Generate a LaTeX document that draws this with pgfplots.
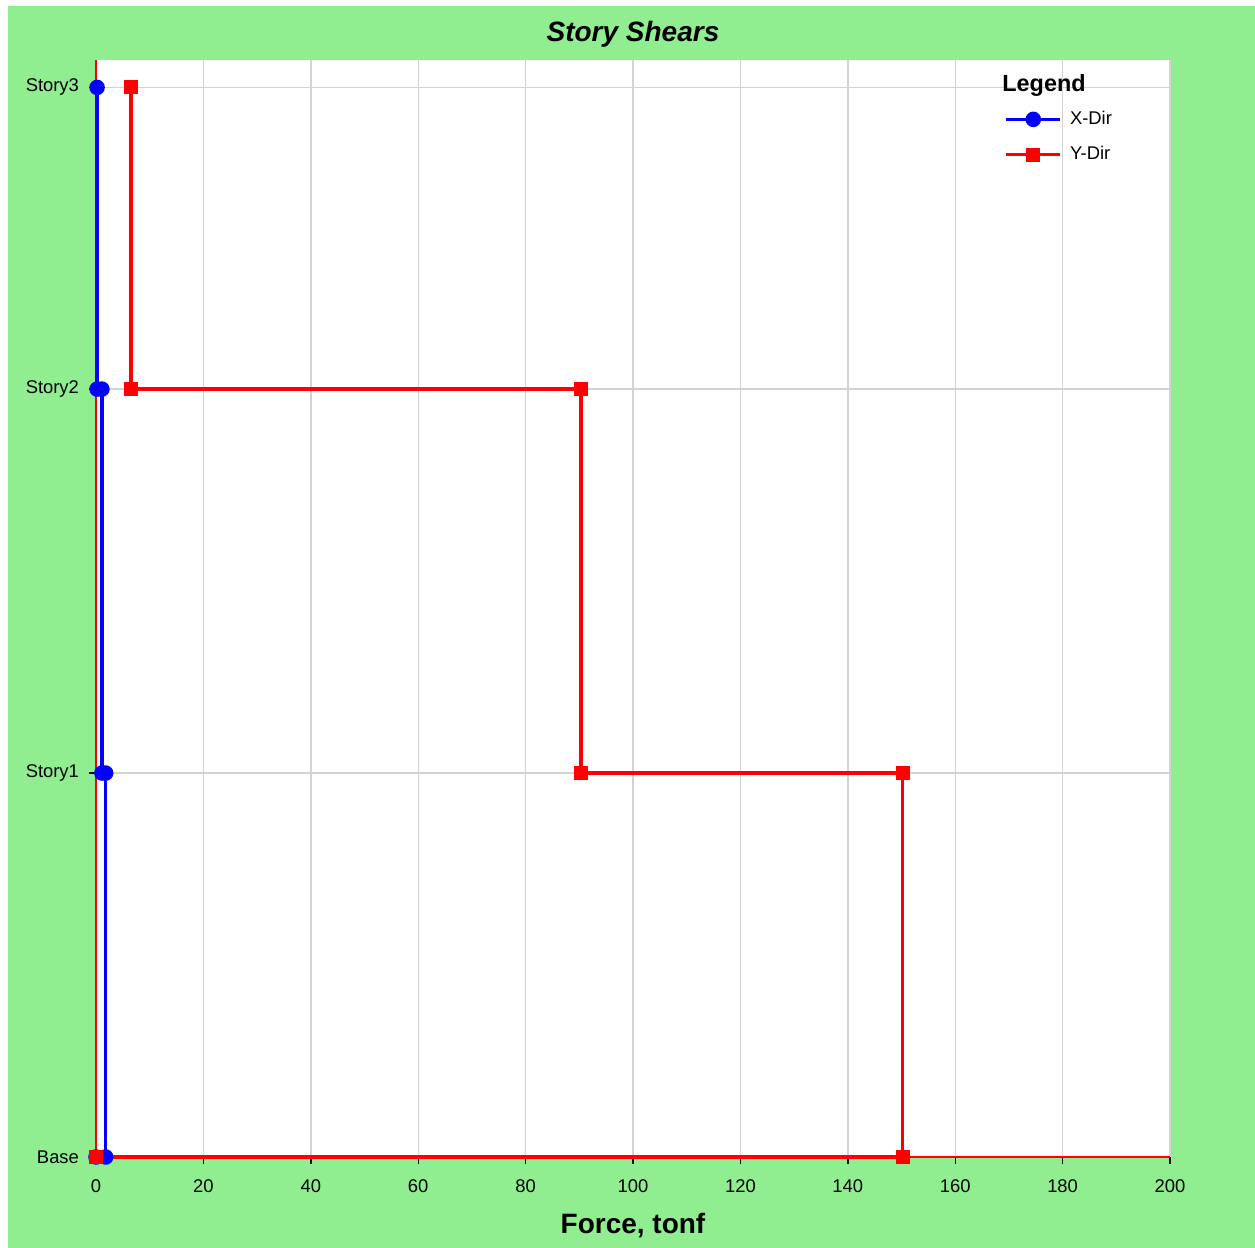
\documentclass[border=0pt]{standalone}
\usepackage{pgfplots}
\pgfplotsset{compat=1.18}
\usepackage{fontspec}
\setmainfont{Liberation Sans}
\definecolor{bggreen}{HTML}{90EE90}
\definecolor{gridgray}{HTML}{D3D3D3}
\begin{document}
\begin{tikzpicture}
\fill[white] (0,0) rectangle (627.5pt,624pt);
\fill[bggreen] (4pt,0) rectangle (627.5pt,621pt);
\begin{axis}[
  at={(48pt,45.5pt)}, anchor=south west,
  scale only axis, width=537pt, height=548.5pt,
  xmin=0, xmax=200, ymin=0, ymax=10,
  xtick={0,20,...,200},
  ytick={0,3.5,7,9.75}, yticklabels={Base,Story1,Story2,Story3},
  grid=major, grid style={gridgray, line width=0.7pt},
  axis background/.style={fill=white},
  axis x line*=bottom, axis y line*=left,
  axis line style={red, line width=0.7pt, -},
  tick align=outside, major tick length=3.5pt,
  tick style={black, line width=0.7pt},
  ticklabel style={font=\fontsize{9.2}{11}\selectfont},
  xticklabel style={yshift=-4.5pt},
  yticklabel style={xshift=-1.5pt},
  /pgf/number format/assume math mode=true,
  clip=false,
  legend cell align=left,
  legend style={at={(0.840,0.961)}, anchor=north west, draw=none, fill=none,
    font=\fontsize{9.2}{11}\selectfont, row sep=5.5pt,
    nodes={inner xsep=4pt},
    /tikz/every even column/.append style={column sep=8pt}},
  legend image code/.code={\draw[#1,mark repeat=2,mark phase=2] plot coordinates {(0pt,0pt) (13.5pt,0pt) (27pt,0pt)};},
]
\addplot[blue, line width=1.75pt, mark=*, mark size=3pt, mark options={solid, fill=blue}]
  coordinates {(0.2,9.75) (0.2,7) (1.1,7) (1.1,3.5) (1.8,3.5) (1.8,0) (0,0)};
\addlegendentry{X-Dir}
\addplot[red, line width=1.75pt, mark=square*, mark size=2.6pt, mark options={solid, fill=red}]
  coordinates {(6.5,9.75) (6.5,7) (90.3,7) (90.3,3.5) (150.2,3.5) (150.2,0) (0,0)};
\addlegendentry{Y-Dir}
\node[anchor=west, font=\bfseries\fontsize{11.7}{13}\selectfont, inner sep=0pt] at (rel axis cs:0.8436,0.977) {Legend};
\node[font=\bfseries\itshape\fontsize{14}{16}\selectfont] at (rel axis cs:0.5,1) [yshift=13pt] {Story Shears};
\node[font=\bfseries\fontsize{14}{16}\selectfont] at (rel axis cs:0.5,0) [yshift=-34.5pt] {Force, tonf};
\end{axis}
\end{tikzpicture}
\end{document}
